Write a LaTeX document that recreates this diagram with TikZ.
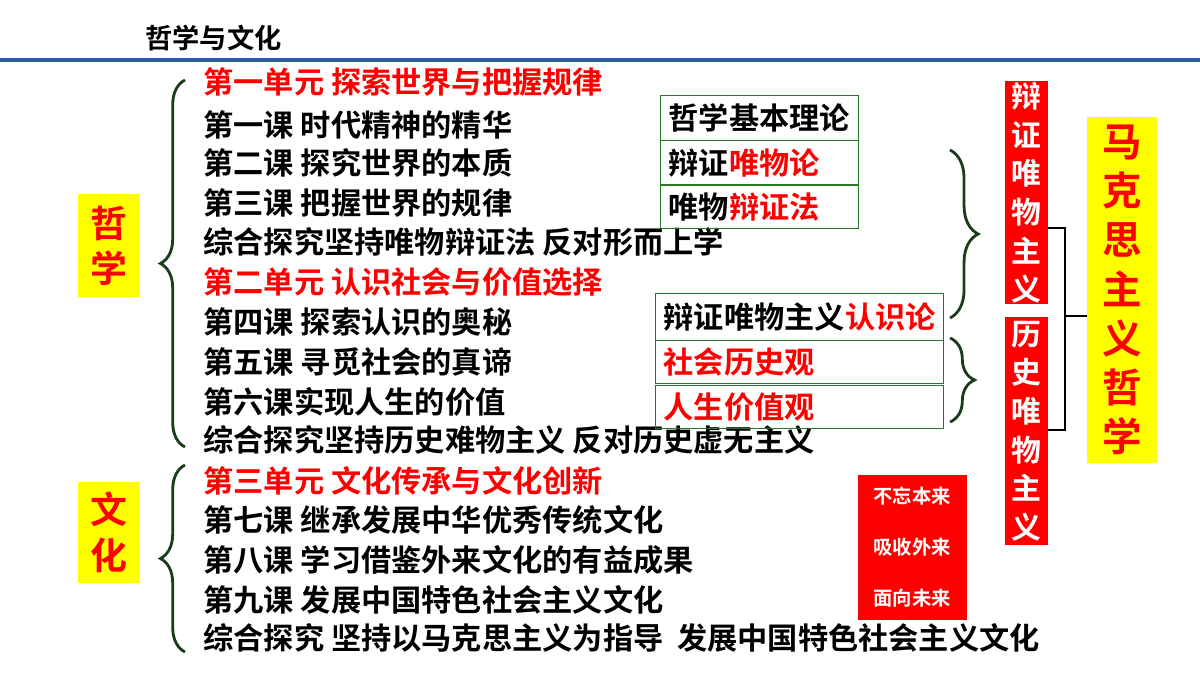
\documentclass[tikz,border=0pt]{standalone}
\usepackage{fontspec}
\setmainfont{Noto Sans CJK SC Bold}
\usetikzlibrary{decorations.pathreplacing}
\definecolor{dgreen}{RGB}{25,60,25}
\definecolor{bgreen}{RGB}{40,120,40}
\definecolor{tblue}{RGB}{40,95,165}
\definecolor{cred}{RGB}{255,0,0}
\definecolor{cyel}{RGB}{255,255,0}
\tikzset{
 line/.style={anchor=west,font=\fontsize{17.2}{18}\selectfont,inner sep=0},
 unit/.style={line,text=cred},
 gbox/.style={draw=bgreen,line width=0.8pt,anchor=north west,font=\fontsize{17.2}{18}\selectfont,inner xsep=0.16cm,inner ysep=0,align=left},
 brc/.style={draw=dgreen,line width=1.6pt,decorate,decoration={brace,amplitude=14pt}},
 vred/.style={fill=cred,text=white,font=\fontsize{17}{22}\selectfont,align=center,inner sep=0},
}
\begin{document}
\begin{tikzpicture}[x=0.02cm,y=-0.02cm]
\useasboundingbox (0,0) rectangle (1200,675);
\node[anchor=west,font=\fontsize{15.5}{16}\selectfont,inner sep=0] (title) at (145,38) {哲学与文化};
\draw[tblue,line width=2pt] (0,60) -- (1200,60);
% left labels
\node[fill=cyel,minimum width=62*0.02cm,minimum height=103*0.02cm,text=cred,font=\fontsize{21}{26}\selectfont,align=center,inner sep=0] (zx) at (109,246) {哲\\学};
\node[fill=cyel,minimum width=62*0.02cm,minimum height=101*0.02cm,text=cred,font=\fontsize{21}{26}\selectfont,align=center,inner sep=0] (wh) at (109,532) {文\\化};
\draw[brc] (185,447) -- (185,80);
\draw[brc] (185,652) -- (185,465);
% lines
\node[unit] (l1) at (203,82) {第一单元 探索世界与把握规律};
\node[line] (l2) at (203,125) {第一课 时代精神的精华};
\node[line] (l3) at (203,163) {第二课 探究世界的本质};
\node[line] (l4) at (203,203) {第三课 把握世界的规律};
\node[line] (l5) at (203,242) {综合探究坚持唯物辩证法 反对形而上学};
\node[unit] (l6) at (203,282) {第二单元 认识社会与价值选择};
\node[line] (l7) at (203,322) {第四课 探索认识的奥秘};
\node[line] (l8) at (203,362) {第五课 寻觅社会的真谛};
\node[line] (l9) at (203,402) {第六课实现人生的价值};
\node[line] (l10) at (203,440) {综合探究坚持历史难物主义 反对历史虚无主义};
\node[unit] (l11) at (203,481) {第三单元 文化传承与文化创新};
\node[line] (l12) at (203,520) {第七课 继承发展中华优秀传统文化};
\node[line] (l13) at (203,560) {第八课 学习借鉴外来文化的有益成果};
\node[line] (l14) at (203,600) {第九课 发展中国特色社会主义文化};
\node[line] (l15) at (203,638) {综合探究 坚持以马克思主义为指导\ \ 发展中国特色社会主义文化};
% green boxes
\node[gbox,text width=198*0.02cm-0.32cm,minimum height=45*0.02cm] (b1) at (660,95) {哲学基本理论};
\node[gbox,text width=198*0.02cm-0.32cm,minimum height=44*0.02cm] (b2) at (660,140) {辩证\textcolor{cred}{唯物论}};
\node[gbox,text width=198*0.02cm-0.32cm,minimum height=43*0.02cm] (b3) at (660,185) {唯物\textcolor{cred}{辩证法}};
\node[gbox,text width=288*0.02cm-0.32cm,minimum height=47*0.02cm] (b4) at (655,293) {辩证唯物主义\textcolor{cred}{认识论}};
\node[gbox,text width=288*0.02cm-0.32cm,minimum height=43*0.02cm,text=cred] (b5) at (655,340) {社会历史观};
\node[gbox,text width=288*0.02cm-0.32cm,minimum height=43*0.02cm,text=cred] (b6) at (655,385) {人生价值观};
% right braces
\draw[brc,decoration={amplitude=16pt}] (950,150) -- (950,318);
\draw[brc,decoration={amplitude=14pt}] (950,338) -- (950,422);
% red vertical boxes
\node[vred,minimum width=43*0.02cm,minimum height=223*0.02cm] (r1) at (1026,193) {辩\\证\\唯\\物\\主\\义};
\node[vred,minimum width=43*0.02cm,minimum height=227*0.02cm] (r2) at (1026,431) {历\\史\\唯\\物\\主\\义};
% yellow big
\node[fill=cyel,text=cred,minimum width=70*0.02cm,minimum height=345*0.02cm,font=\fontsize{22.5}{28}\selectfont,align=center,inner sep=0] (mk) at (1122,290) {马\\克\\思\\主\\义\\哲\\学};
% connector bracket
\coordinate (c1) at (1065,228);
\coordinate (c2) at (1065,430);
\coordinate (cm) at (1065,316);
\draw[black,line width=1.5pt] (r1.east |- c1) -- (c1) -- (c2) -- (r2.east |- c2);
\draw[black,line width=1.5pt] (cm) -- (mk.west |- cm);
% small red box
\node[fill=cred,text=white,minimum width=109*0.02cm,minimum height=145*0.02cm,font=\fontsize{11}{29}\selectfont,align=center,inner sep=0] (sr) at (912,547) {不忘本来\\吸收外来\\面向未来};
\end{tikzpicture}
\end{document}
